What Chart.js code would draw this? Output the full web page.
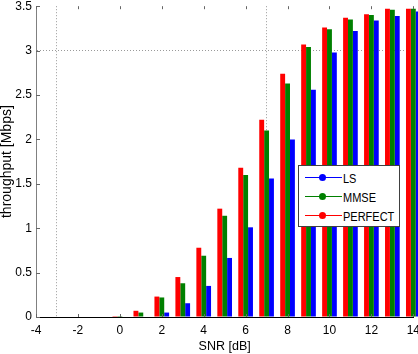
<!DOCTYPE html>
<html lang="en">
<head>
  <meta charset="UTF-8" />
  <title>Throughput vs SNR</title>
  <script src="https://cdn.jsdelivr.net/npm/chart.js"></script>
  <style>
    body {
      margin: 0;
      width: 418px;
      height: 354px;
      overflow: hidden;
      position: relative;
      background: #fff;
      font-family: 'Liberation Sans', Arial, sans-serif;
    }
    .plot { position: absolute; left: 0; top: -5px; width: 426px; height: 359px; }
    .legend {
      position: absolute; left: 298px; top: 165px;
      width: 100px; height: 58px; padding-top: 2px;
      border: 1px solid #404040; background: #fff;
    }
    .legend-row { display: flex; align-items: center; height: 19px; font-size: 11px; color: #000; }
    .legend-row div:last-child { transform: scaleY(1.15); }
    .legend-key { position: relative; width: 37px; height: 1px; margin-left: 6px; margin-right: 1px; }
    .legend-key span { position: absolute; left: 14px; top: -3px; width: 7px; height: 7px; border-radius: 50%; }
  </style>
</head>
<body>
  <div class="plot"><canvas id="snrChart"></canvas></div>
  <div class="legend" id="legend"></div>

  <script>
    const snr = [-4, -3, -2, -1, 0, 1, 2, 3, 4, 5, 6, 7, 8, 9, 10, 11, 12, 13, 14];
    const perfect = [0, 0, 0, 0, 0.01, 0.07, 0.23, 0.45, 0.78, 1.22, 1.68, 2.22, 2.74, 3.07, 3.26, 3.37, 3.41, 3.47, 3.47];
    const mmse    = [0, 0, 0, 0, 0.01, 0.05, 0.22, 0.38, 0.69, 1.14, 1.60, 2.10, 2.63, 3.04, 3.24, 3.35, 3.40, 3.46, 3.47];
    const ls      = [0, 0, 0, 0, 0, 0, 0.05, 0.155, 0.35, 0.665, 1.01, 1.56, 2.00, 2.56, 2.98, 3.22, 3.34, 3.39, 3.44];

    const xTicks = [-4, -2, 0, 2, 4, 6, 8, 10, 12, 14];
    const yTicks = [0, 0.5, 1, 1.5, 2, 2.5, 3, 3.5];
    // only these grid lines survive in the original figure
    const xGridLines = [-2, 8];
    const yGridLines = [3];

    Chart.defaults.font.family = "'Liberation Sans', Arial, sans-serif";
    Chart.defaults.color = '#000';

    // MATLAB style tick marks, pointing into the axes
    const insideTicks = {
      id: 'insideTicks',
      afterDatasetsDraw(chart) {
        const { ctx, chartArea, scales: { x, y } } = chart;
        ctx.save();
        ctx.lineWidth = 1;
        ctx.strokeStyle = '#666';
        ctx.beginPath();
        y.ticks.forEach(t => {
          const py = Math.round(y.getPixelForValue(t.value)) + 0.5;
          ctx.moveTo(chartArea.left, py);
          ctx.lineTo(chartArea.left + 4, py);
        });
        x.ticks.forEach(t => {
          const px = Math.round(x.getPixelForValue(t.value)) + 0.5;
          ctx.moveTo(px, chartArea.top);
          ctx.lineTo(px, chartArea.top + 3);
          ctx.moveTo(px, chartArea.bottom);
          ctx.lineTo(px, chartArea.bottom - 3);
        });
        ctx.stroke();
        ctx.restore();
      }
    };

    const gridColor = (list) => (c) => (c.tick && list.includes(c.tick.value)) ? '#9a9a9a' : 'rgba(0,0,0,0)';

    const chart = new Chart(document.getElementById('snrChart'), {
      type: 'bar',
      data: {
        labels: snr,
        datasets: [
          { label: 'PERFECT', data: perfect, backgroundColor: '#ff0000', clip: false },
          { label: 'MMSE', data: mmse, backgroundColor: '#008000', clip: false },
          { label: 'LS', data: ls, backgroundColor: '#0000ff', clip: false }
        ]
      },
      options: {
        responsive: true,
        maintainAspectRatio: false,
        animation: false,
        categoryPercentage: 0.7,
        barPercentage: 1.0,
        layout: { autoPadding: false, padding: { left: 0, right: 3, top: 5, bottom: 0 } },
        scales: {
          x: {
            type: 'linear',
            offset: false,
            min: -4, max: 14,
            afterBuildTicks: s => { s.ticks = xTicks.map(v => ({ value: v })); },
            afterFit: s => { s.height = 37; },
            ticks: { padding: 6, font: { size: 12 }, autoSkip: false, maxRotation: 0, callback: v => String(v) },
            grid: { color: gridColor(xGridLines), drawTicks: false },
            border: { color: '#000', width: 1, dash: [1, 2] },
            title: { display: true, text: 'SNR [dB]', font: { size: 12.5 }, padding: { top: 0, bottom: 0 } }
          },
          y: {
            min: 0, max: 3.5,
            afterBuildTicks: s => { s.ticks = yTicks.map(v => ({ value: v })); },
            afterFit: s => { s.width = 36; },
            ticks: { padding: 4, font: { size: 12 }, callback: v => String(v) },
            grid: { color: gridColor(yGridLines), drawTicks: false },
            border: { color: '#808080', width: 1, dash: [1, 2] },
            title: {
              display: true, text: 'throughput [Mbps]',
              font: { size: 14, lineHeight: 1 },
              padding: { top: 0, bottom: 0 }
            }
          }
        },
        plugins: { legend: { display: false }, tooltip: { enabled: false } }
      },
      plugins: [insideTicks]
    });

    // legend in MATLAB order: LS, MMSE, PERFECT
    const legendBox = document.getElementById('legend');
    chart.data.datasets.slice().reverse().forEach(ds => {
      const row = document.createElement('div');
      row.className = 'legend-row';
      row.innerHTML = '<div class="legend-key" style="background:' + ds.backgroundColor + '"><span style="background:' +
        ds.backgroundColor + '"></span></div><div>' + ds.label + '</div>';
      legendBox.appendChild(row);
    });
  </script>
</body>
</html>
